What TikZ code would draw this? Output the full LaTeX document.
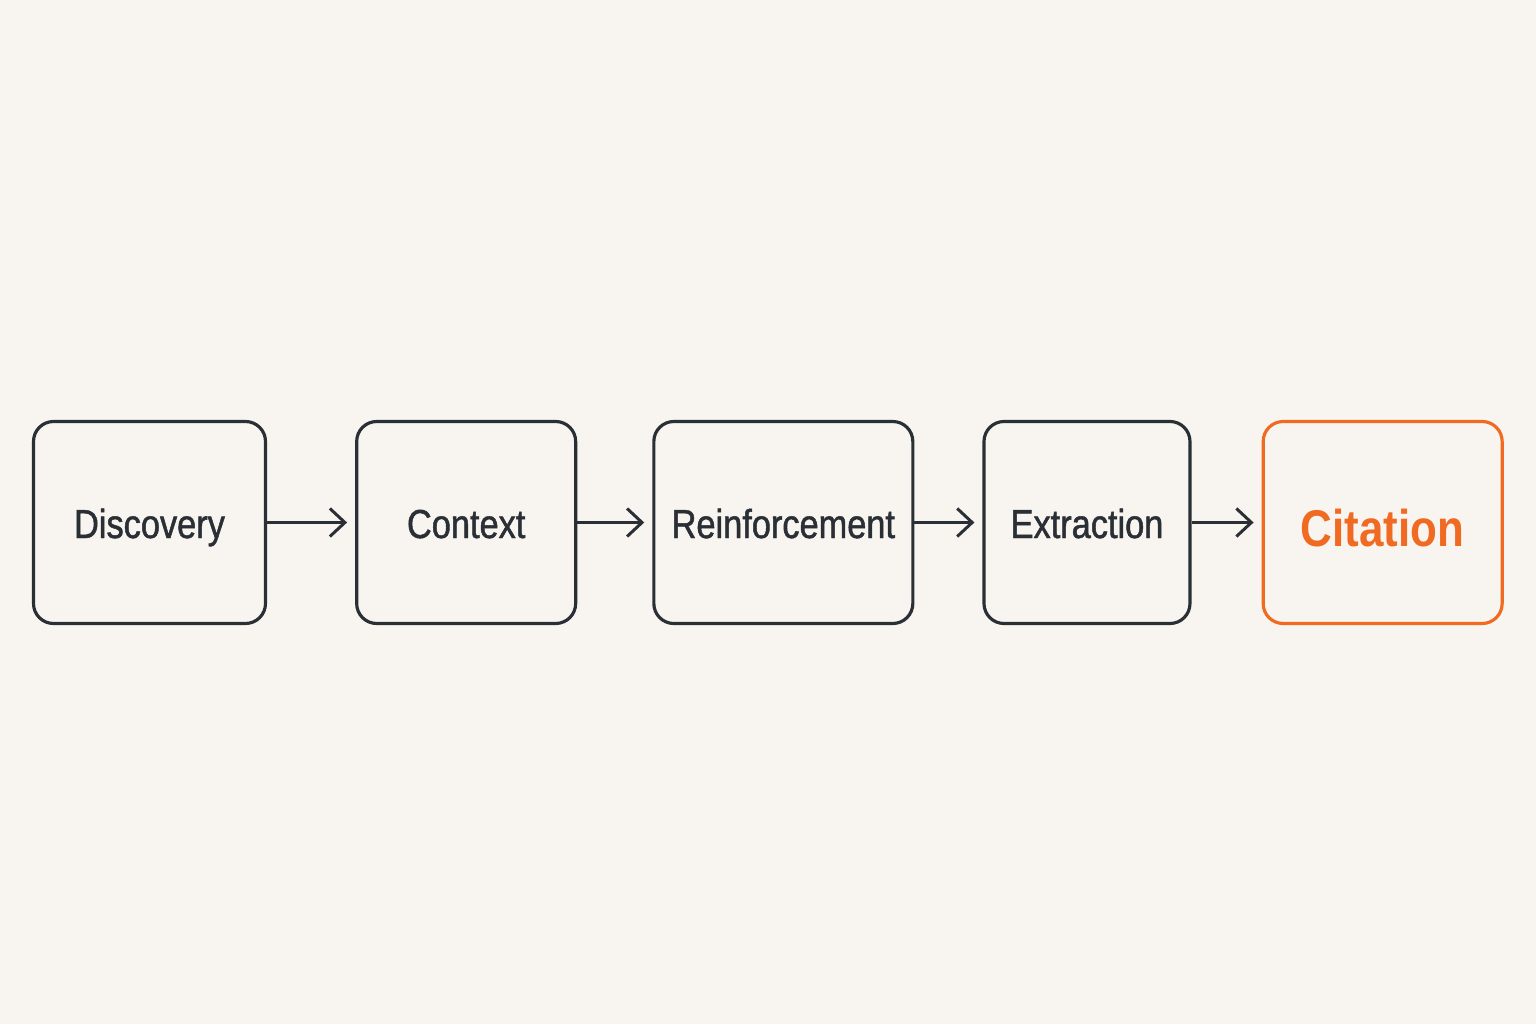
\documentclass[tikz,border=0pt]{standalone}
\usepackage{fontspec}
\setmainfont{Liberation Sans}[FakeStretch=0.85]
\newfontfamily\stagefont{Liberation Sans}[FakeStretch=0.85,FakeBold=1.2]
\usetikzlibrary{arrows.meta,positioning}
\definecolor{PaperBg}{HTML}{F8F5F0}
\definecolor{SlateInk}{HTML}{2A2F36}
\definecolor{CiteOrange}{HTML}{F06A22}

\begin{document}
\begin{tikzpicture}[>={Straight Barb[length=1.5mm,width=2.8mm]},
  stage/.style={draw=SlateInk,line width=0.9pt,rounded corners=0.2cm,
    minimum height=2.02cm,inner sep=0pt,text=SlateInk,
    text height=0.31cm,text depth=0pt,
    font=\stagefont\fontsize{11.5}{14}\selectfont},
  flow/.style={->,draw=SlateInk,line width=0.85pt,shorten >=0.08cm}]
  \fill[PaperBg] (0,0) rectangle (15.36,10.24);
  \useasboundingbox (0,0) rectangle (15.36,10.24);
  % the five stages, left to right
  \node[stage,minimum width=2.32cm] (disc) at (1.495,5.015) {Discovery};
  \node[stage,minimum width=2.19cm,right=0.88cm of disc] (ctx) {Context};
  \node[stage,minimum width=2.59cm,right=0.75cm of ctx] (reinf) {Reinforcement};
  \node[stage,minimum width=2.06cm,right=0.68cm of reinf] (extr) {Extraction};
  \node[stage,minimum width=2.39cm,right=0.70cm of extr,draw=CiteOrange,
    text=CiteOrange,text height=0.48cm,
    font=\fontsize{14.7}{17}\selectfont\bfseries] (cite) {Citation};
  \draw[flow] (disc) -- (ctx);
  \draw[flow] (ctx) -- (reinf);
  \draw[flow] (reinf) -- (extr);
  \draw[flow] (extr) -- (cite);
\end{tikzpicture}
\end{document}
